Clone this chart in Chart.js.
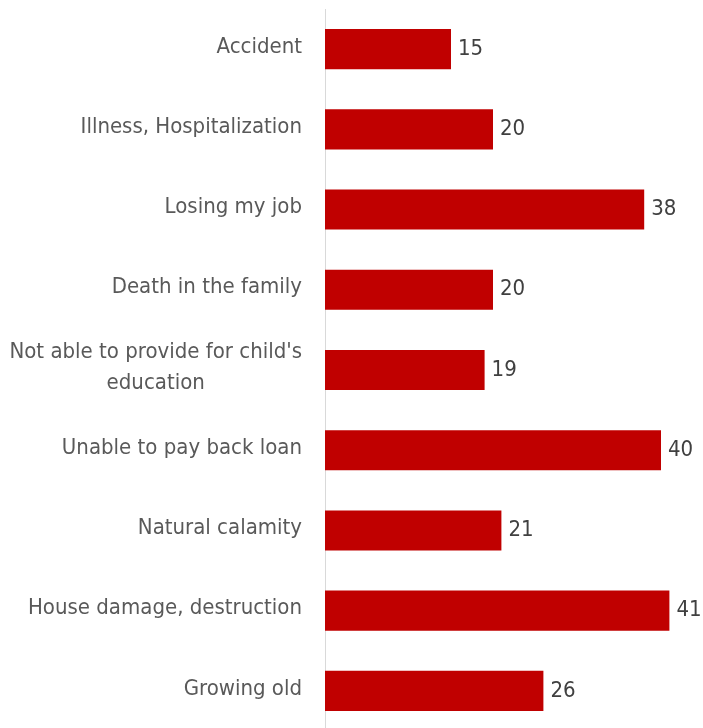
<!DOCTYPE html>
<html lang="en">
<head>
    <meta charset="UTF-8">
    <title>Worries</title>
    <script src="https://cdn.jsdelivr.net/npm/chart.js"></script>
    <style>
        html, body { margin: 0; padding: 0; background: #fff; overflow: hidden; }
        #wrap { position: relative; width: 703px; height: 740px; }
    </style>
</head>
<body>
    <div id="wrap"><canvas id="worryChart"></canvas></div>

    <script>
        // Data
        const categories = [
            ['Accident'],
            ['Illness, Hospitalization'],
            ['Losing my job'],
            ['Death in the family'],
            ["Not able to provide for child's", 'education'],
            ['Unable to pay back loan'],
            ['Natural calamity'],
            ['House damage, destruction'],
            ['Growing old']
        ];
        const values = [15, 20, 38, 20, 19, 40, 21, 41, 26];

        const labelFont = '22px "Liberation Sans Narrow", "DejaVu Sans Condensed", sans-serif';

        // Draws category labels (centered lines) and the value at the end of each bar
        const labelPlugin = {
            id: 'labelPlugin',
            afterDatasetsDraw(chart) {
                const ctx = chart.ctx;
                const yScale = chart.scales.y;
                const meta = chart.getDatasetMeta(0);
                ctx.save();
                ctx.font = labelFont;
                ctx.textBaseline = 'middle';

                // category labels
                ctx.fillStyle = '#595959';
                ctx.textAlign = 'center';
                const rightEdge = chart.chartArea.left - 23;
                const lineH = 31;
                categories.forEach((lines, i) => {
                    const yc = yScale.getPixelForValue(i) - 2;
                    const widest = Math.max(...lines.map(l => ctx.measureText(l).width));
                    const cx = rightEdge - widest / 2;
                    lines.forEach((line, j) => {
                        const y = yc + (j - (lines.length - 1) / 2) * lineH;
                        ctx.fillText(line, cx, y);
                    });
                });

                // values
                ctx.fillStyle = '#404040';
                ctx.textAlign = 'left';
                meta.data.forEach((bar, i) => {
                    ctx.fillText(String(values[i]), bar.x + 7, bar.y);
                });
                ctx.restore();
            }
        };

        const ctx = document.getElementById('worryChart').getContext('2d');
        const worryChart = new Chart(ctx, {
            type: 'bar',
            data: {
                labels: categories.map(c => c.join(' ')),
                datasets: [{
                    data: values,
                    backgroundColor: '#C00000',
                    borderWidth: 0,
                    categoryPercentage: 1,
                    barPercentage: 0.5
                }]
            },
            options: {
                indexAxis: 'y',
                responsive: true,
                maintainAspectRatio: false,
                animation: false,
                layout: { padding: { left: 325, right: 0, top: 9, bottom: 9 } },
                plugins: {
                    legend: { display: false },
                    tooltip: { enabled: false }
                },
                scales: {
                    x: {
                        display: false,
                        min: 0,
                        max: 45
                    },
                    y: {
                        display: true,
                        ticks: { display: false },
                        grid: { display: false, drawTicks: false },
                        border: { display: true, color: '#D9D9D9', width: 1 }
                    }
                }
            },
            plugins: [labelPlugin]
        });
    </script>
</body>
</html>
